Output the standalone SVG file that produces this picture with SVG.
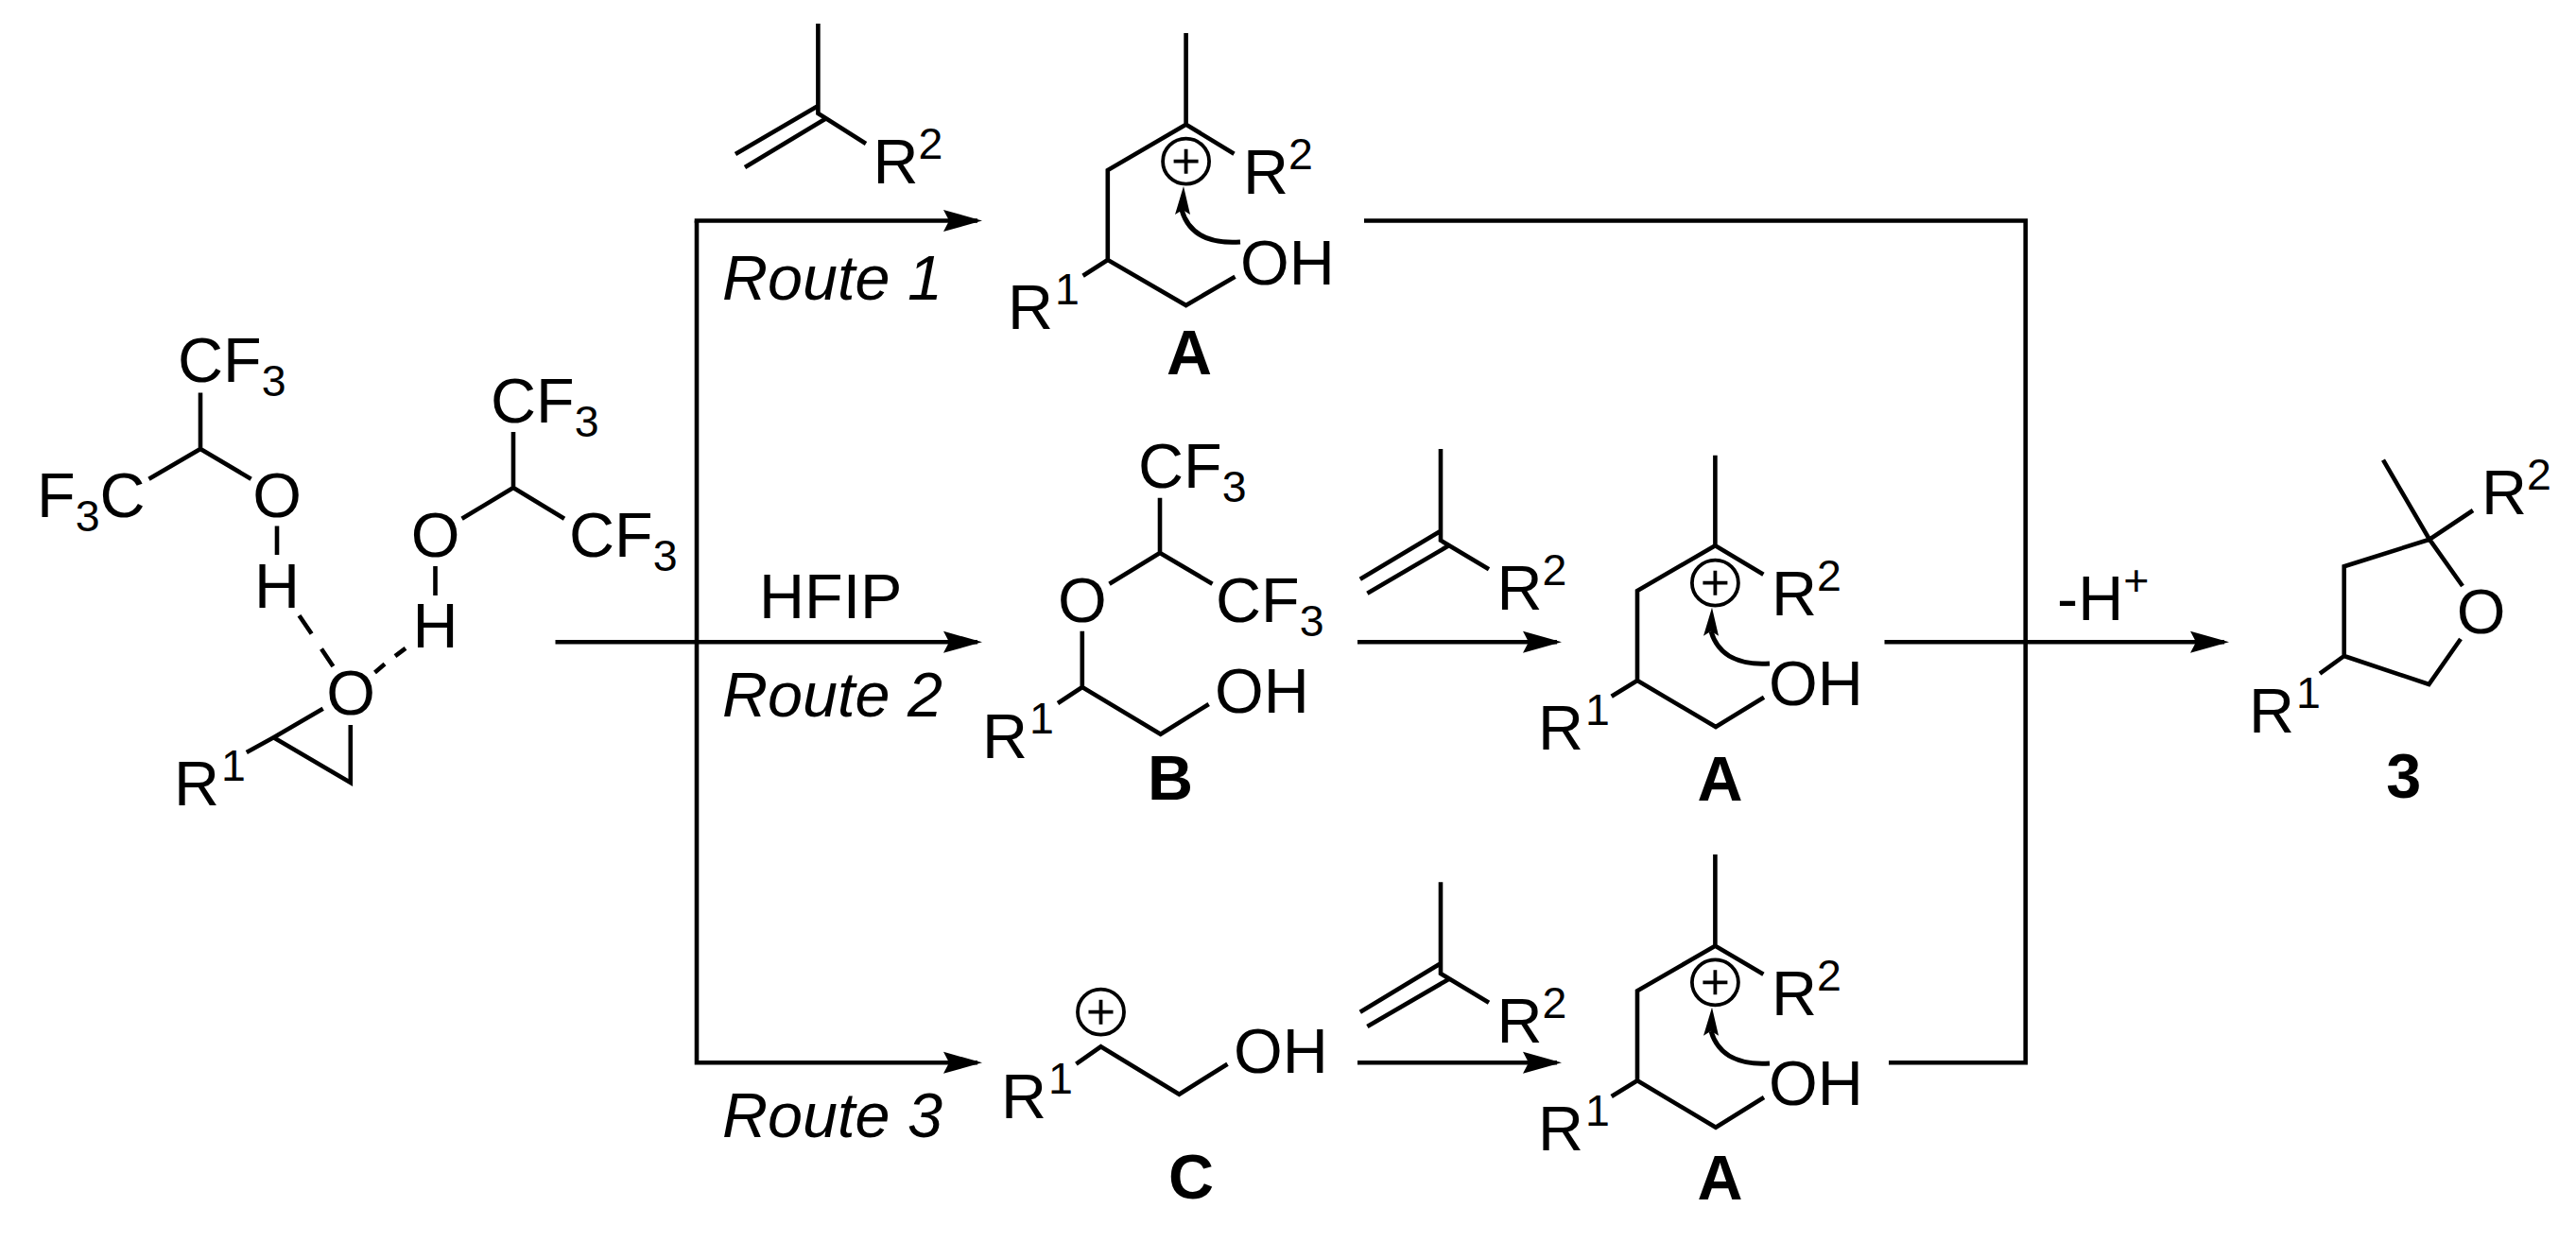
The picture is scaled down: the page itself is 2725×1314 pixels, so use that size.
<svg xmlns="http://www.w3.org/2000/svg" xmlns:xlink="http://www.w3.org/1999/xlink" width="2725" height="1314" viewBox="0 0 2725 1314">
<style>
text{font-family:"Liberation Sans",Arial,sans-serif;font-size:66.500px;fill:#000}
.s{font-size:46.500px}
.b{font-weight:bold;text-anchor:middle}
.m{text-anchor:middle}
.i{font-style:italic}
.bond{fill:none;stroke:#000;stroke-width:4.600;stroke-linejoin:miter;stroke-linecap:butt}
.conn{fill:none;stroke:#000;stroke-width:4.600;stroke-linejoin:miter}
.curve{fill:none;stroke:#000;stroke-width:5}
.thin{fill:none;stroke:#000;stroke-width:3.800}
</style>
<defs>
<marker id="ah" markerUnits="userSpaceOnUse" markerWidth="44" markerHeight="26" viewBox="0 0 44 26" refX="37" refY="13" orient="auto"><path d="M1,1.500 L42,13 L1,24.500 L7,13Z" fill="#000"/></marker>
<g id="plus"><ellipse class="thin" rx="24.500" ry="24"/><path class="thin" d="M-13,0H13M0,-13V13"/></g>
<path id="ch" d="M0,0 L-9,30 L-1,25 L7,30Z" fill="#000"/>
</defs>
<rect width="2725" height="1314" fill="#fff"/>

<g id="connectors">
<path class="conn" d="M734.700,233.500H1034" marker-end="url(#ah)"/>
<path class="conn" d="M737,233.500V1124.300H1034" marker-end="url(#ah)"/>
<path class="conn" d="M587.500,679.300H1034" marker-end="url(#ah)"/>
<path class="conn" d="M1436,679.300H1647" marker-end="url(#ah)"/>
<path class="conn" d="M1436,1124.300H1647" marker-end="url(#ah)"/>
<path class="conn" d="M1443,233.500H2142.700V1124.300H1998"/>
<path class="conn" d="M1993.500,679.300H2353" marker-end="url(#ah)"/>
</g>

<g id="hfip-complex">
<path class="bond" d="M212,415.600V475M157.500,506.700L212,475L265.600,506.700M293,556.400V587"/>
<path class="bond" d="M316.500,651.300L329.600,670.500M340,686.500L352.400,705"/>
<path class="bond" d="M543,457V516M488.600,548.800L543,516L597,548.800M460.500,599V630"/>
<path class="bond" d="M396.500,711.400L407,702.600M418,694.200L429,685.800"/>
<path class="bond" d="M341.700,749.700L289.400,780.300L370.800,828V767M289.400,780.300L260.800,796"/>
<text x="188" y="404">CF<tspan class="s" dy="15">3</tspan></text>
<text x="39" y="547">F<tspan class="s" dy="15">3</tspan><tspan dy="-15">C</tspan></text>
<text class="m" x="293" y="547">O</text>
<text class="m" x="293" y="642.500">H</text>
<text x="519" y="447.300">CF<tspan class="s" dy="15">3</tspan></text>
<text x="602" y="589">CF<tspan class="s" dy="15">3</tspan></text>
<text class="m" x="460.500" y="589">O</text>
<text class="m" x="460.500" y="684.600">H</text>
<text class="m" x="371" y="756">O</text>
<text x="184" y="852">R<tspan class="s" dx="2" dy="-26">1</tspan></text>
</g>

<g id="alkene-1">
<path class="bond" d="M865.400,25V120L916,152M865.400,112L778,163M872.700,126L788,177"/>
<text x="923.500" y="194">R<tspan class="s" dy="-26">2</tspan></text>
</g>

<g id="route-labels">
<text class="i" x="764" y="317.300">Route 1</text>
<text x="803" y="654.300">HFIP</text>
<text class="i" x="764" y="758.300">Route 2</text>
<text class="i" x="764" y="1203.300">Route 3</text>
<text x="2176" y="656">-H<tspan class="s" dy="-26">+</tspan></text>
</g>

<g id="intermediate-A1">
<path class="bond" d="M1254.600,35V131.700L1305.500,162.700M1254.600,131.700L1171.800,180V275L1254.600,323L1306.500,292.700M1171.800,275L1145.600,291.700"/>
<use href="#plus" x="1254.600" y="170.700"/>
<path class="curve" d="M1312,256C1282,258 1258,250 1250,222"/>
<use href="#ch" x="1252" y="197"/>
<text x="1315" y="205">R<tspan class="s" dy="-26">2</tspan></text>
<text x="1312" y="301">OH</text>
<text x="1066" y="348">R<tspan class="s" dx="2" dy="-26">1</tspan></text>
<text class="b" x="1258" y="395.700">A</text>
</g>

<g id="intermediate-B">
<path class="bond" d="M1227,526.700V585M1173.500,617.700L1227,585L1282.500,617.700M1144.800,667.700V727L1227.700,776.700L1278.700,745M1144.800,727L1119,744"/>
<text x="1204" y="516">CF<tspan class="s" dy="15">3</tspan></text>
<text class="m" x="1144.800" y="658.300">O</text>
<text x="1286" y="658.300">CF<tspan class="s" dy="15">3</tspan></text>
<text x="1285" y="754">OH</text>
<text x="1039" y="801.700">R<tspan class="s" dx="2" dy="-26">1</tspan></text>
<text class="b" x="1238" y="846">B</text>
</g>

<g id="alkene-2">
<path class="bond" d="M1524,475V571.700L1575,602.300M1524,561.700L1438.800,612.700M1532.500,577.300L1446.400,627.700"/>
<text x="1583.500" y="645">R<tspan class="s" dy="-26">2</tspan></text>
</g>

<g id="intermediate-A2">
<path class="bond" d="M1814.400,481.700V577.300L1865.400,607.700M1814.400,577.300L1732,625V720L1815,769L1866,737.700M1732,720L1704.700,736.700"/>
<use href="#plus" x="1814.400" y="616.700"/>
<path class="curve" d="M1872,702C1842,704 1818,695 1810,668"/>
<use href="#ch" x="1811" y="642.700"/>
<text x="1874" y="651">R<tspan class="s" dy="-26">2</tspan></text>
<text x="1871" y="746">OH</text>
<text x="1627" y="793.300">R<tspan class="s" dx="2" dy="-26">1</tspan></text>
<text class="b" x="1819.500" y="846.700">A</text>
</g>

<g id="intermediate-C">
<path class="bond" d="M1138.400,1125.700L1164.500,1107.300L1247.400,1157.700L1298.500,1125.700"/>
<use href="#plus" x="1164.500" y="1070.700"/>
<text x="1059" y="1182.700">R<tspan class="s" dx="2" dy="-26">1</tspan></text>
<text x="1305" y="1135">OH</text>
<text class="b" x="1260" y="1268.300">C</text>
</g>

<g id="alkene-3">
<path class="bond" d="M1524,933.300V1030L1575,1060.700M1524,1019.300L1438.800,1070.700M1532.500,1036L1446.400,1086"/>
<text x="1583.500" y="1103.300">R<tspan class="s" dy="-26">2</tspan></text>
</g>

<g id="intermediate-A3">
<path class="bond" d="M1814.400,904V1000.700L1865.400,1030.700M1814.400,1000.700L1732,1048.300V1143.300L1815,1192.700L1866,1161M1732,1143.300L1704.700,1160"/>
<use href="#plus" x="1814.400" y="1039.300"/>
<path class="curve" d="M1872,1125C1842,1127 1818,1118 1810,1091"/>
<use href="#ch" x="1811" y="1065.700"/>
<text x="1874" y="1074">R<tspan class="s" dy="-26">2</tspan></text>
<text x="1871" y="1169">OH</text>
<text x="1627" y="1216.700">R<tspan class="s" dx="2" dy="-26">1</tspan></text>
<text class="b" x="1819.500" y="1269.300">A</text>
</g>

<g id="product-3">
<path class="bond" d="M2521,486.700L2570,570.700L2616,540M2570,570.700L2605,620M2570,570.700L2479.700,599.300V694L2569.400,724L2603,676M2479.700,694L2454,712.700"/>
<text class="m" x="2624.600" y="670">O</text>
<text x="2625" y="544">R<tspan class="s" dy="-26">2</tspan></text>
<text x="2379" y="775">R<tspan class="s" dx="2" dy="-26">1</tspan></text>
<text class="b" x="2542.700" y="844">3</text>
</g>
</svg>
